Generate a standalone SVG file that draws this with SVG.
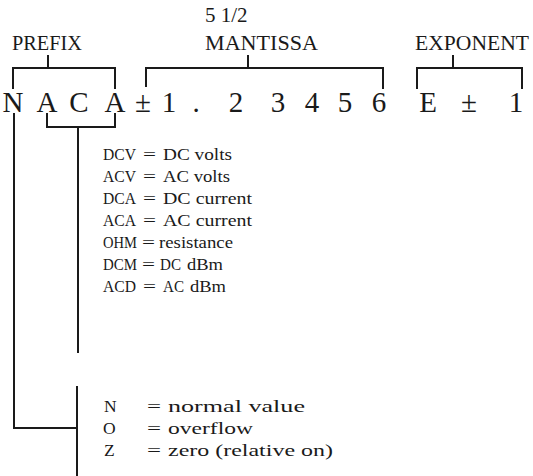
<svg xmlns="http://www.w3.org/2000/svg" width="533" height="476" viewBox="0 0 533 476">
<style>
.ln{fill:none;stroke:#1a1a1a;stroke-width:2;stroke-linecap:square}
text{font-family:"Liberation Serif","DejaVu Serif","Times New Roman",serif;fill:#1a1a1a}
.lbl{font-size:21px}
.big{font-size:29px;text-anchor:middle}
.ls{font-size:17px}
.lo{font-size:17.5px}
</style>
<rect width="533" height="476" fill="#ffffff"/>
<g id="labels">
<text class="lbl" x="205" y="22">5 1/2</text>
<text class="lbl" x="12" y="50" textLength="70" lengthAdjust="spacingAndGlyphs">PREFIX</text>
<text class="lbl" x="205" y="50" textLength="113" lengthAdjust="spacingAndGlyphs">MANTISSA</text>
<text class="lbl" x="415" y="50" textLength="114" lengthAdjust="spacingAndGlyphs">EXPONENT</text>
</g>
<g id="number">
<text class="big" x="13" y="112">N</text>
<text class="big" x="47" y="112">A</text>
<text class="big" x="79" y="112">C</text>
<text class="big" x="115" y="112">A</text>
<text class="big" x="143" y="112">±</text>
<text class="big" x="169" y="112">1</text>
<text class="big" x="196" y="112">.</text>
<text class="big" x="236" y="112">2</text>
<text class="big" x="278" y="112">3</text>
<text class="big" x="312" y="112">4</text>
<text class="big" x="345" y="112">5</text>
<text class="big" x="379" y="112">6</text>
<text class="big" x="428" y="112">E</text>
<text class="big" x="469" y="112">±</text>
<text class="big" x="516" y="112">1</text>
</g>
<g id="connectors">
<path class="ln" d="M13,88 V68 H115 V88 M48,56 V68"/>
<path class="ln" d="M146,86 V68 H383 V88 M248,56 V68"/>
<path class="ln" d="M417,88 V68 H522 V88 M453,56 V68"/>
<path class="ln" d="M47,114 V127 H115 V114 M78,127 V352"/>
<path class="ln" d="M14,114 V428 H77 M77,387 V475"/>
</g>
<g id="function-list">
<text class="ls" x="103" y="160" textLength="33" lengthAdjust="spacingAndGlyphs">DCV</text><text class="ls" x="143" y="160" textLength="13" lengthAdjust="spacingAndGlyphs">=</text><text class="ls" x="163" y="160" textLength="69" lengthAdjust="spacingAndGlyphs">DC volts</text>
<text class="ls" x="103" y="182" textLength="33" lengthAdjust="spacingAndGlyphs">ACV</text><text class="ls" x="143" y="182" textLength="13" lengthAdjust="spacingAndGlyphs">=</text><text class="ls" x="163" y="182" textLength="67" lengthAdjust="spacingAndGlyphs">AC volts</text>
<text class="ls" x="103" y="204" textLength="33" lengthAdjust="spacingAndGlyphs">DCA</text><text class="ls" x="143" y="204" textLength="13" lengthAdjust="spacingAndGlyphs">=</text><text class="ls" x="163" y="204" textLength="89" lengthAdjust="spacingAndGlyphs">DC current</text>
<text class="ls" x="103" y="226" textLength="33" lengthAdjust="spacingAndGlyphs">ACA</text><text class="ls" x="143" y="226" textLength="13" lengthAdjust="spacingAndGlyphs">=</text><text class="ls" x="163" y="226" textLength="89" lengthAdjust="spacingAndGlyphs">AC current</text>
<text class="ls" x="103" y="248" textLength="34" lengthAdjust="spacingAndGlyphs">OHM</text><text class="ls" x="142" y="248" textLength="13" lengthAdjust="spacingAndGlyphs">=</text><text class="ls" x="159" y="248" textLength="74" lengthAdjust="spacingAndGlyphs">resistance</text>
<text class="ls" x="103" y="270" textLength="34" lengthAdjust="spacingAndGlyphs">DCM</text><text class="ls" x="142" y="270" textLength="13" lengthAdjust="spacingAndGlyphs">=</text><text class="ls" x="160" y="270" textLength="21" lengthAdjust="spacingAndGlyphs">DC</text><text class="ls" x="187" y="270" textLength="36" lengthAdjust="spacingAndGlyphs">dBm</text>
<text class="ls" x="103" y="292" textLength="33" lengthAdjust="spacingAndGlyphs">ACD</text><text class="ls" x="143" y="292" textLength="13" lengthAdjust="spacingAndGlyphs">=</text><text class="ls" x="163" y="292" textLength="21" lengthAdjust="spacingAndGlyphs">AC</text><text class="ls" x="190" y="292" textLength="36" lengthAdjust="spacingAndGlyphs">dBm</text>
</g>
<g id="status-list">
<text class="lo" x="104" y="412">N</text><text class="lo" x="147" y="412" textLength="14" lengthAdjust="spacingAndGlyphs">=</text><text class="lo" x="168" y="412" textLength="137" lengthAdjust="spacingAndGlyphs">normal value</text>
<text class="lo" x="103" y="434">O</text><text class="lo" x="147" y="434" textLength="14" lengthAdjust="spacingAndGlyphs">=</text><text class="lo" x="168" y="434" textLength="85" lengthAdjust="spacingAndGlyphs">overflow</text>
<text class="lo" x="104" y="456">Z</text><text class="lo" x="147" y="456" textLength="14" lengthAdjust="spacingAndGlyphs">=</text><text class="lo" x="168" y="456" textLength="165" lengthAdjust="spacingAndGlyphs">zero (relative on)</text>
</g>
</svg>
